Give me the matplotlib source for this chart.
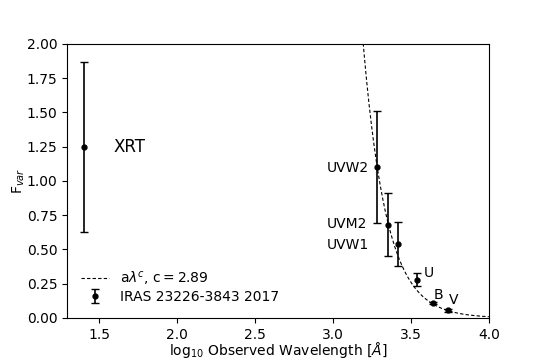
import numpy as np
import matplotlib
matplotlib.use('Agg')
import matplotlib.pyplot as plt

# data: log10 wavelength, Fvar and errors
bands = ['XRT', 'UVW2', 'UVM2', 'UVW1', 'U', 'B', 'V']
logwave = [1.40, 3.285, 3.351, 3.415, 3.540, 3.643, 3.738]
fvar = [1.25, 1.10, 0.68, 0.54, 0.28, 0.11, 0.055]
fvar_err = [0.62, 0.41, 0.23, 0.16, 0.05, 0.01, 0.01]

# power-law fit a*lambda^c (decreasing with wavelength)
c_index = 2.89
ref_x, ref_f = 3.285, 1.09

fig = plt.figure(figsize=(5.45, 3.63), dpi=100)
ax = fig.add_axes([0.123, 0.124, 0.774, 0.755])

xfit = np.linspace(3.0, 4.0, 400)
yfit = ref_f * 10 ** (-c_index * (xfit - ref_x))
ax.plot(xfit, yfit, 'k--', lw=0.8, dashes=(3, 2), label=r'a$\lambda^c$, c$=$2.89')

ax.errorbar(logwave, fvar, yerr=fvar_err, fmt='o', color='k', ms=3.5,
            capsize=3, elinewidth=1.2, label='IRAS 23226-3843 2017')

ax.text(1.59, 1.25, 'XRT', fontsize=12, va='center')
ax.text(2.96, 1.095, 'UVW2', fontsize=10, va='center')
ax.text(2.96, 0.685, 'UVM2', fontsize=10, va='center')
ax.text(2.96, 0.535, 'UVW1', fontsize=10, va='center')
ax.text(3.58, 0.33, 'U', fontsize=10, va='center')
ax.text(3.645, 0.17, 'B', fontsize=10, va='center')
ax.text(3.745, 0.13, 'V', fontsize=10, va='center')

ax.set_xlim(1.293, 4.0)
ax.set_ylim(0, 2.0)
ax.set_xlabel(r'log$_{10}$ Observed Wavelength [$\AA$]', labelpad=-1)
ax.set_ylabel(r'F$_{var}$', labelpad=0)
ax.legend(loc='lower left', frameon=False, labelspacing=0.2,
          borderaxespad=0.6)

fig.savefig('out.png', dpi=100)
